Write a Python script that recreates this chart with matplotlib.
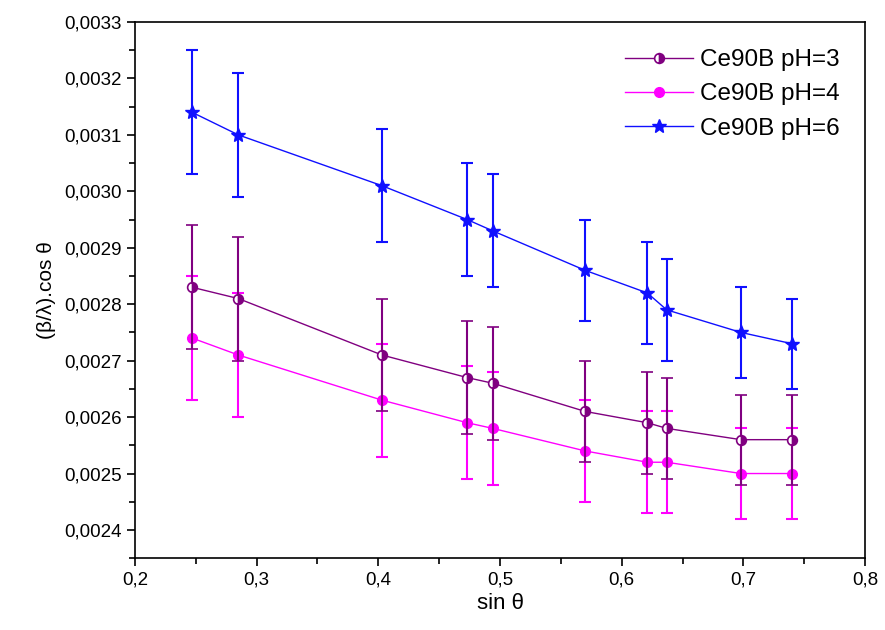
import numpy as np
import matplotlib.pyplot as plt
from matplotlib.lines import Line2D
from matplotlib.ticker import MultipleLocator, FuncFormatter

plt.rcParams['font.family'] = ['Liberation Sans', 'DejaVu Sans']

sin_theta = [0.247, 0.285, 0.403, 0.473, 0.494, 0.570, 0.621, 0.637, 0.698, 0.740]

y_ph3 = [0.00283, 0.00281, 0.00271, 0.00267, 0.00266, 0.00261, 0.00259, 0.00258, 0.00256, 0.00256]
y_ph4 = [0.00274, 0.00271, 0.00263, 0.00259, 0.00258, 0.00254, 0.00252, 0.00252, 0.00250, 0.00250]
y_ph6 = [0.00314, 0.00310, 0.00301, 0.00295, 0.00293, 0.00286, 0.00282, 0.00279, 0.00275, 0.00273]

err = [0.00011, 0.00011, 0.00010, 0.00010, 0.00010, 0.00009, 0.00009, 0.00009, 0.00008, 0.00008]

fig = plt.figure(figsize=(8.85, 6.3), dpi=100)
ax = fig.add_axes([0.1525, 0.114, 0.825, 0.851])

c3, c4, c6 = '#800080', '#ff00ff', '#1010ff'
st3 = dict(color=c3, marker='o', ms=7, fillstyle='right', markerfacecoloralt='white',
           mec=c3, mew=1.2, lw=1)
st4 = dict(color=c4, marker='o', ms=7, lw=1)
st6 = dict(color=c6, marker='*', ms=10, lw=1)
eb = dict(elinewidth=1.5, capsize=4.5, capthick=1.5)

ax.errorbar(sin_theta, y_ph3, yerr=err, zorder=3, **st3, **eb)
ax.errorbar(sin_theta, y_ph4, yerr=err, zorder=2, **st4, **eb)
ax.errorbar(sin_theta, y_ph6, yerr=err, zorder=2, **st6, **eb)

ax.set_xlim(0.2, 0.8)
ax.set_ylim(0.00235, 0.0033)
ax.xaxis.set_major_locator(MultipleLocator(0.1))
ax.xaxis.set_minor_locator(MultipleLocator(0.05))
ax.yaxis.set_major_locator(MultipleLocator(0.0001))
ax.yaxis.set_minor_locator(MultipleLocator(0.00005))
ax.xaxis.set_major_formatter(FuncFormatter(lambda v, p: f'{v:.1f}'.replace('.', ',')))
ax.yaxis.set_major_formatter(FuncFormatter(lambda v, p: f'{v:.4f}'.replace('.', ',')))
ax.tick_params(which='major', direction='out', length=6, width=1.2, labelsize=13.5)
ax.tick_params(which='minor', direction='out', length=4, width=1.2)
for s in ax.spines.values():
    s.set_linewidth(1.2)

ax.set_xlabel('sin θ', fontsize=16, labelpad=3)
ax.set_ylabel('(β/λ).cos θ', fontsize=15, labelpad=6)

handles = [Line2D([], [], **st3), Line2D([], [], **st4), Line2D([], [], **st6)]
labels = ['Ce90B pH=3', 'Ce90B pH=4', 'Ce90B pH=6']
ax.legend(handles, labels, loc='upper right', frameon=False, fontsize=17.5,
          handlelength=2.8, handletextpad=0.3, labelspacing=0.5,
          bbox_to_anchor=(0.995, 0.99))

fig.savefig('out.png', dpi=100)
